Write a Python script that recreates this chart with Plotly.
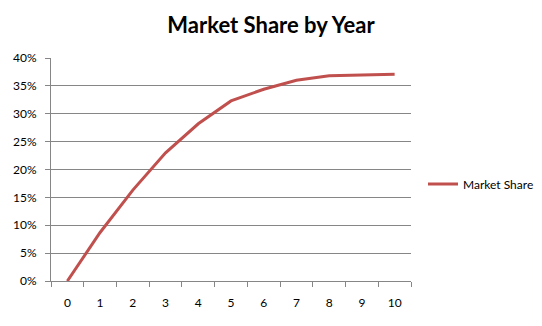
import plotly.graph_objects as go

years = ["0", "1", "2", "3", "4", "5", "6", "7", "8", "9", "10"]
market_share = [0.0, 0.087, 0.163, 0.230, 0.282, 0.323, 0.344, 0.360, 0.368, 0.370, 0.371]
series_name = "Market Share"
title_text = "Market Share by Year"

fig = go.Figure()
fig.add_trace(go.Scatter(
    x=years, y=market_share, mode="lines", name=series_name,
    line=dict(color="#C0504D", width=3),
))

W, H = 542, 326
L, R, T, B = 51, 131, 58, 45

fig.update_layout(
    width=W, height=H,
    margin=dict(l=L, r=R, t=T, b=B, autoexpand=False),
    paper_bgcolor="white", plot_bgcolor="white",
    font=dict(family="Lato, DejaVu Sans, sans-serif", size=11, color="#000000"),
    title=dict(text=title_text, x=271 / W, xanchor="center", y=1 - 25 / H, yanchor="middle",
               font=dict(family="Lato, sans-serif", size=22, color="#000000", weight="bold")),
    showlegend=True,
    legend=dict(xref="container", yref="container", x=423 / W, xanchor="left",
                y=1 - 184 / H, yanchor="middle",
                font=dict(size=12), bgcolor="rgba(0,0,0,0)", tracegroupgap=0, itemwidth=30),
)
fig.update_xaxes(
    type="category", range=[-0.5, 10.5], tickson="boundaries",
    ticks="outside", ticklen=5, tickcolor="#868686",
    showline=True, linecolor="#868686", linewidth=1,
    showgrid=False, zeroline=False, fixedrange=True,
    tickfont=dict(size=12), ticklabelstandoff=11,
)
fig.update_yaxes(
    range=[0, 0.4], dtick=0.05, tick0=0, tickformat=".0%",
    ticks="outside", ticklen=5, tickcolor="#868686",
    showline=True, linecolor="#868686", linewidth=1,
    showgrid=True, gridcolor="#868686", gridwidth=1,
    zeroline=False, fixedrange=True, tickfont=dict(size=12), ticklabelstandoff=6,
)

fig.write_html("out.html")
